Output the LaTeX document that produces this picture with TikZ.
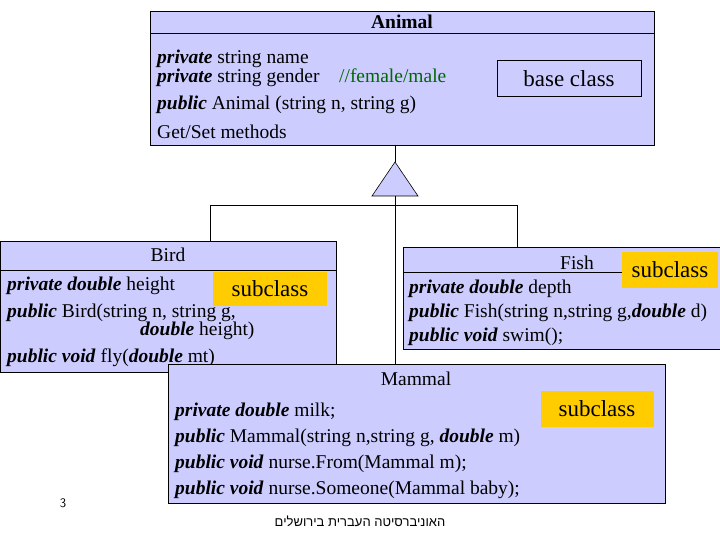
\documentclass[tikz,border=0pt]{standalone}
\usepackage{fontspec}
\setmainfont{Liberation Serif}
\newfontfamily\hebfont[Script=Hebrew]{Liberation Sans}
\TeXXeTstate=1
\begin{document}
\begin{tikzpicture}[x=1pt,y=-1pt,
  cls/.style={draw=black,fill=boxblue,line width=0.6pt},
  sub/.style={fill=subyel,inner sep=0pt,font=\fontsize{23}{26}\selectfont},
  txt/.style={anchor=west,inner sep=0pt,font=\fontsize{19.5}{22}\selectfont,align=left},
  ln/.style={draw=black,line width=0.6pt}]
\definecolor{boxblue}{RGB}{204,204,255}
\definecolor{subyel}{RGB}{255,204,0}
\useasboundingbox (0,0) rectangle (720,540);
% connectors
\coordinate (tb) at (395,196);
\coordinate (hl) at (210,205);
\coordinate (hr) at (517,205);
\draw[ln] (hl) -- (hr);
\draw[ln] (hl) -- (210,241);
\draw[ln] (hr) -- (517,247);
\draw[ln] (tb) -- (395,364);
% Animal
\draw[cls] (150,11) rectangle (654,145);
\draw[ln] (150,33) -- (654,33);
\node[font=\bfseries\fontsize{19.5}{22}\selectfont] (animal) at (402,22) {Animal};
\node[txt] (a1) at (157,59) {\textbf{\textit{private}} string name};
\node[txt] (a2) at (157,78) {\textbf{\textit{private}} string gender\quad\textcolor{black!60!green}{//female/male}};
\node[txt] (a3) at (157,105) {\textbf{\textit{public}} Animal (string n, string g)};
\node[txt] (a4) at (157,132) {Get/Set methods};
\draw[ln,fill=boxblue] (497,60) rectangle (641,96);
\node[font=\fontsize{23}{26}\selectfont] (bc) at (569,79) {base class};
\draw[ln] (395,145) -- (395,162);
\draw[cls] (395,162) -- (418,196) -- (372,196) -- cycle;
% Bird
\draw[cls] (0,241) rectangle (336,372);
\draw[ln] (0,270) -- (336,270);
\node[font=\fontsize{19.5}{22}\selectfont] (bird) at (168,255) {Bird};
\node[sub,minimum width=114pt,minimum height=34pt] (s1) at (270,289) {subclass};
\node[txt] (b1) at (7,286) {\textbf{\textit{private double}} height};
\node[txt] (b2) at (7,313) {\textbf{\textit{public}} Bird(string n, string g,};
\node[txt] (b3) at (140,331) {\textbf{\textit{double}} height)};
\node[txt] (b4) at (7,358) {\textbf{\textit{public void}} fly(\textbf{\textit{double}} mt)};
% Fish
\draw[cls] (403,247) rectangle (720,349);
\draw[ln] (403,272) -- (625,272);
\node[font=\fontsize{19.5}{22}\selectfont] (fish) at (577,263) {Fish};
\node[sub,minimum width=96pt,minimum height=36pt] (s2) at (670,270) {subclass};
\node[txt] (f1) at (409,289) {\textbf{\textit{private double}} depth};
\node[txt] (f2) at (409,313) {\textbf{\textit{public}} Fish(string n,string g,\textbf{\textit{double}} d)};
\node[txt] (f3) at (409,337) {\textbf{\textit{public void}} swim();};
% Mammal
\node[font=\sffamily\fontsize{13}{15}\selectfont] (pg) at (63,503) {3};
\node[font=\hebfont\fontsize{13}{15}\selectfont] (heb) at (360,521) {\beginR האוניברסיטה העברית בירושלים\endR};
\draw[cls] (168,364) rectangle (665,503);
\node[font=\fontsize{19.5}{22}\selectfont] (mammal) at (416,379) {Mammal};
\node[sub,minimum width=113pt,minimum height=36pt] (s3) at (597,409) {subclass};
\node[txt] (m1) at (175,412) {\textbf{\textit{private double}} milk;};
\node[txt] (m2) at (175,438) {\textbf{\textit{public}} Mammal(string n,string g, \textbf{\textit{double}} m)};
\node[txt] (m3) at (175,464) {\textbf{\textit{public void}} nurse.From(Mammal m);};
\node[txt] (m4) at (175,490) {\textbf{\textit{public void}} nurse.Someone(Mammal baby);};
\end{tikzpicture}
\end{document}
